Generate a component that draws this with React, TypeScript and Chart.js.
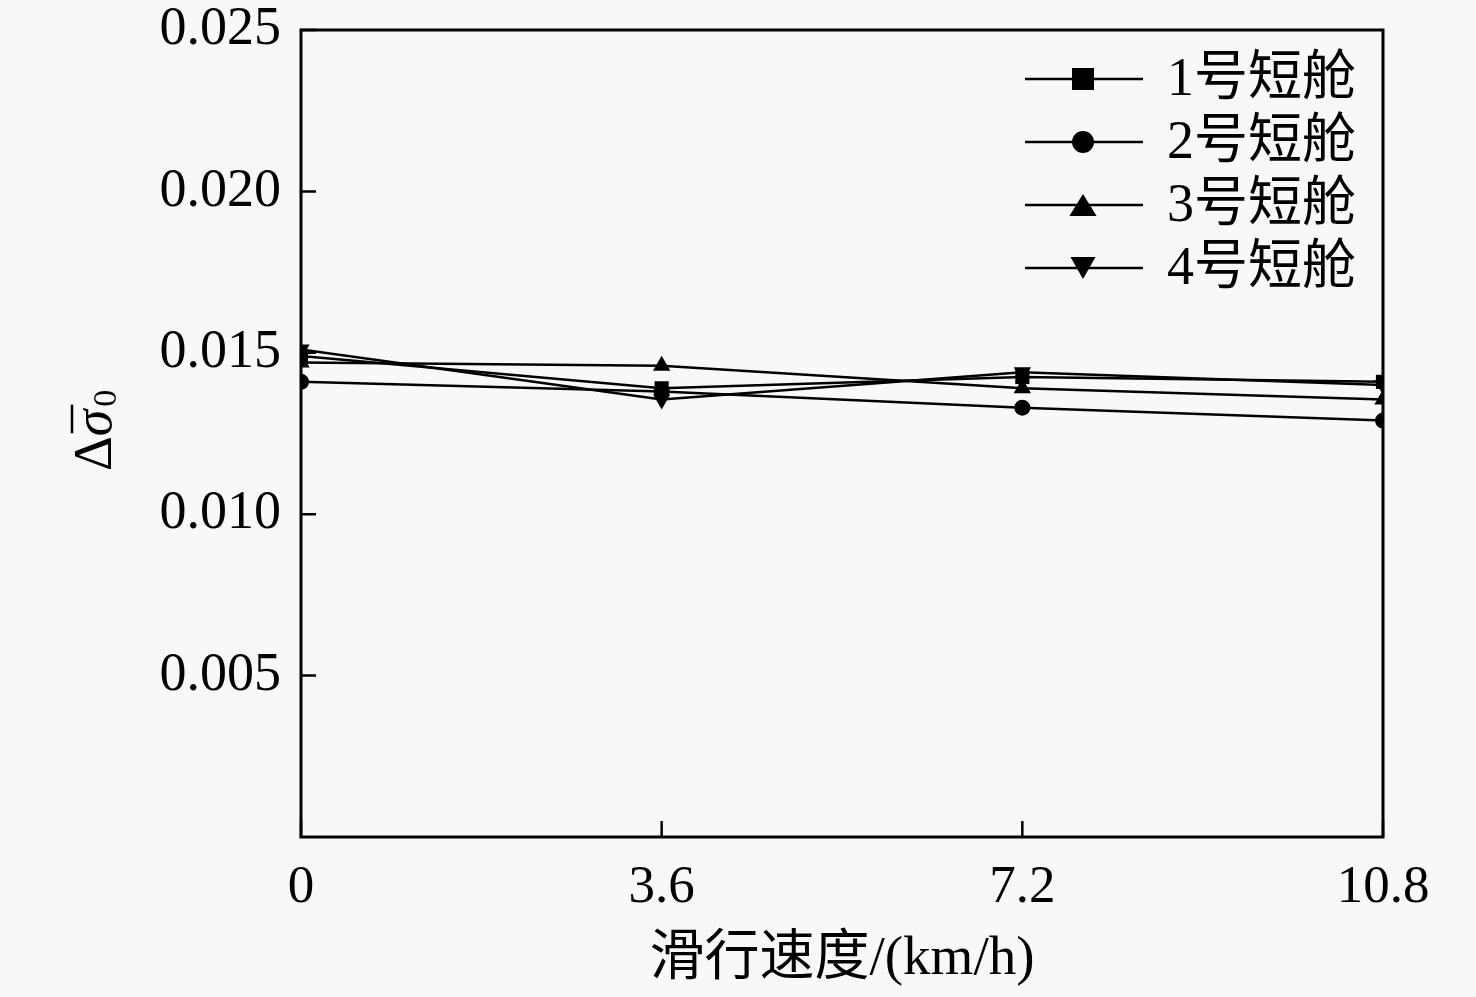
import React, { useEffect, useRef } from 'react';
import { Chart, registerables } from 'chart.js';

Chart.register(...registerables);

// slip speed (km/h)
const speeds = [0, 3.6, 7.2, 10.8];
const cabinNames = ['1号短舱', '2号短舱', '3号短舱', '4号短舱'];
const cabin1 = [0.0149, 0.0139, 0.01425, 0.0141];
const cabin2 = [0.0141, 0.0138, 0.0133, 0.0129];
const cabin3 = [0.0147, 0.0146, 0.0139, 0.01355];
const cabin4 = [0.0151, 0.01355, 0.0144, 0.014];
const yTicks = [0.005, 0.01, 0.015, 0.02, 0.025];
const xTitle = '滑行速度/(km/h)';

const FONT = '"Liberation Serif", "Noto Sans CJK SC", serif';

// draws a marker at (x, y) with the given size
function drawMarker(ctx: CanvasRenderingContext2D, style: string, x: number, y: number, s: number) {
	ctx.beginPath();
	if (style === 'rect') {
		ctx.rect(x - s / 2, y - s / 2, s, s);
	} else if (style === 'circle') {
		ctx.arc(x, y, s / 2, 0, Math.PI * 2);
	} else if (style === 'up') {
		ctx.moveTo(x, y - s * 0.5);
		ctx.lineTo(x + s * 0.62, y + s * 0.5);
		ctx.lineTo(x - s * 0.62, y + s * 0.5);
		ctx.closePath();
	} else {
		ctx.moveTo(x, y + s * 0.5);
		ctx.lineTo(x + s * 0.57, y - s * 0.5);
		ctx.lineTo(x - s * 0.57, y - s * 0.5);
		ctx.closePath();
	}
	ctx.fill();
}

const legendStyles = ['rect', 'circle', 'up', 'down'];

const framePlugin = {
	id: 'frame',
	beforeDraw(chart: any) {
		const ctx = chart.ctx;
		ctx.save();
		ctx.fillStyle = '#f8f8f8';
		ctx.fillRect(0, 0, chart.width, chart.height);
		ctx.restore();
	},
	afterDraw(chart: any) {
		const ctx: CanvasRenderingContext2D = chart.ctx;
		const { left, right, top, bottom } = chart.chartArea;
		const xs = chart.scales.x;
		const ys = chart.scales.y;
		ctx.save();
		ctx.strokeStyle = '#000';
		ctx.fillStyle = '#000';

		// inner ticks
		ctx.lineWidth = 2.5;
		ctx.beginPath();
		yTicks.forEach((v) => {
			const py = ys.getPixelForValue(v);
			ctx.moveTo(left, py);
			ctx.lineTo(left + 15, py);
		});
		speeds.forEach((v) => {
			const px = xs.getPixelForValue(v);
			ctx.moveTo(px, bottom);
			ctx.lineTo(px, bottom - 16);
		});
		ctx.stroke();

		// frame
		ctx.lineWidth = 3;
		ctx.strokeRect(left, top, right - left, bottom - top);

		// legend
		chart.data.datasets.forEach((ds: any, i: number) => {
			const y = 79 + i * 63;
			ctx.lineWidth = 2.5;
			ctx.beginPath();
			ctx.moveTo(1025, y);
			ctx.lineTo(1143, y);
			ctx.stroke();
			drawMarker(ctx, legendStyles[i], 1083, y, 22);
			ctx.font = '54px ' + FONT;
			ctx.textAlign = 'left';
			ctx.textBaseline = 'middle';
			ctx.fillText(ds.label, 1167, y + 2);
		});

		// x title
		ctx.font = '55px ' + FONT;
		ctx.textAlign = 'center';
		ctx.textBaseline = 'middle';
		ctx.fillText(xTitle, (left + right) / 2, 960);

		// y title: Δσ̄₀ rotated
		ctx.translate(111, 471);
		ctx.rotate(-Math.PI / 2);
		ctx.textAlign = 'left';
		ctx.textBaseline = 'alphabetic';
		ctx.font = '54px ' + FONT;
		ctx.fillText('Δ', 0, 0);
		let x = ctx.measureText('Δ').width;
		ctx.font = 'italic 54px ' + FONT;
		ctx.fillText('σ', x, 0);
		const sw = ctx.measureText('σ').width;
		ctx.lineWidth = 2.5;
		ctx.beginPath();
		ctx.moveTo(x + 3, -39);
		ctx.lineTo(x + sw + 5, -39);
		ctx.stroke();
		x += sw + 3;
		ctx.font = '34px ' + FONT;
		ctx.fillText('0', x, 5);
		ctx.restore();
	},
};

const pts = (vals: number[]) => speeds.map((s, i) => ({ x: s, y: vals[i] }));

const App: React.FC = () => {
	const chartRef = useRef<HTMLCanvasElement | null>(null);
	const chartInstanceRef = useRef<Chart | null>(null);

	useEffect(() => {
		document.body.style.margin = '0';
		document.body.style.background = '#f8f8f8';
		if (!chartRef.current) return;
		const ctx = chartRef.current.getContext('2d');
		if (!ctx) return;

		const common = {
			borderColor: '#000',
			backgroundColor: '#000',
			borderWidth: 2.5,
			pointBorderWidth: 0,
			tension: 0,
			fill: false,
		};

		const config: any = {
			type: 'line',
			data: {
				datasets: [
					{ ...common, label: cabinNames[0], data: pts(cabin1), pointStyle: 'rect', pointRadius: 10 },
					{ ...common, label: cabinNames[1], data: pts(cabin2), pointStyle: 'circle', pointRadius: 8 },
					{ ...common, label: cabinNames[2], data: pts(cabin3), pointStyle: 'triangle', pointRadius: 10 },
					{ ...common, label: cabinNames[3], data: pts(cabin4), pointStyle: 'triangle', pointRadius: 10, pointRotation: 180 },
				],
			},
			options: {
				animation: false,
				responsive: true,
				maintainAspectRatio: false,
				layout: { padding: { top: 30, right: 93, left: 0, bottom: 0 } },
				plugins: {
					legend: { display: false },
					tooltip: { enabled: false },
				},
				scales: {
					x: {
						type: 'linear',
						min: 0,
						max: 10.8,
						grid: { display: false },
						border: { display: false },
						afterBuildTicks: (scale: any) => {
							scale.ticks = speeds.map((v) => ({ value: v }));
						},
						afterFit: (scale: any) => {
							scale.height = 160;
							scale.paddingLeft = 0;
							scale.paddingRight = 0;
						},
						ticks: {
							color: '#000',
							font: { family: FONT, size: 53 },
							padding: 11,
							maxRotation: 0,
							callback: (v: number) => String(v),
						},
					},
					y: {
						min: 0,
						max: 0.025,
						grid: { display: false },
						border: { display: false },
						afterBuildTicks: (scale: any) => {
							scale.ticks = yTicks.map((v) => ({ value: v }));
						},
						afterFit: (scale: any) => {
							scale.width = 301;
							scale.paddingTop = 0;
							scale.paddingBottom = 0;
						},
						ticks: {
							color: '#000',
							font: { family: FONT, size: 54 },
							padding: 12,
							callback: (v: number) => v.toFixed(3),
						},
					},
				},
			},
			plugins: [framePlugin],
		};

		if (chartInstanceRef.current) {
			chartInstanceRef.current.destroy();
		}
		chartInstanceRef.current = new Chart(ctx, config);

		return () => {
			if (chartInstanceRef.current) {
				chartInstanceRef.current.destroy();
				chartInstanceRef.current = null;
			}
		};
	}, []);

	return (
		<div style={{ position: 'relative', width: 1476, height: 997 }}>
			<canvas ref={chartRef} />
		</div>
	);
};

export default App;
